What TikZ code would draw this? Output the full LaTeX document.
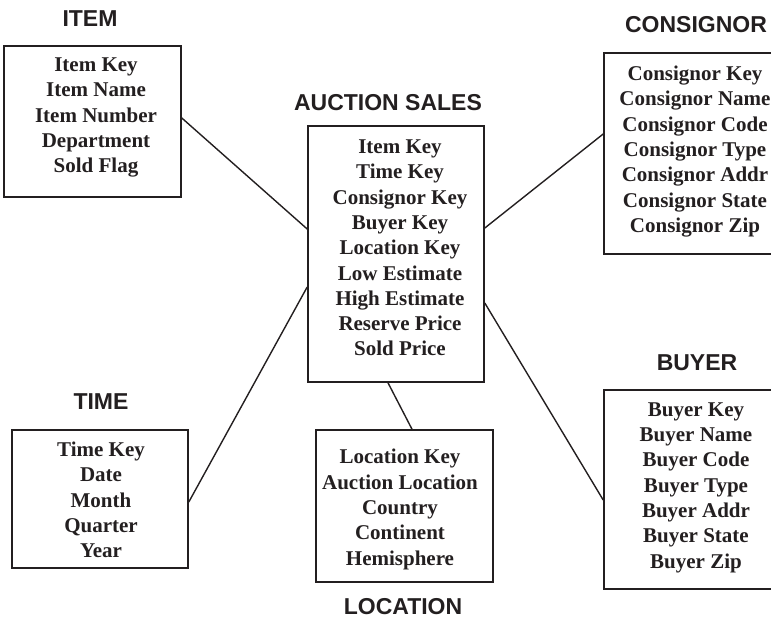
\documentclass[tikz,border=0pt]{standalone}
\usepackage{fontspec}
\setmainfont{Liberation Serif}
\setsansfont{Liberation Sans}
\usetikzlibrary{positioning}
\definecolor{ink}{RGB}{35,31,32}

\begin{document}
\begin{tikzpicture}[x=1pt,y=-1pt,
  tbl/.style={draw=ink,line width=1.6pt,inner sep=0pt},
  fields/.style={text=ink,align=center,font=\fontsize{21}{25.3}\selectfont\bfseries},
  title/.style={text=ink,font=\fontsize{23}{27}\selectfont\sffamily\bfseries},
  link/.style={draw=ink,line width=1.4pt}]
\useasboundingbox (0,0) rectangle (771,621);

% tables
\node[tbl,minimum width=177pt,minimum height=151pt] (item) at (92.5,121.5) {};
\node[tbl,minimum width=176pt,minimum height=256pt] (sales) at (396,254) {};
\node[tbl,minimum width=176pt,minimum height=201pt] (cons) at (692,153.5) {};
\node[tbl,minimum width=176pt,minimum height=199pt] (buyer) at (692,489.5) {};
\node[tbl,minimum width=176pt,minimum height=138pt] (time) at (100,499) {};
\node[tbl,minimum width=177pt,minimum height=152pt] (loc) at (404.5,506) {};

% fields
\node[fields] (itemf) at (96,117.5) {Item Key\\Item Name\\Item Number\\Department\\Sold Flag};
\node[fields] (salesf) at (400,248) {Item Key\\Time Key\\Consignor Key\\Buyer Key\\Location Key\\Low Estimate\\High Estimate\\Reserve Price\\Sold Price};
\node[fields] (consf) at (695,151.5) {Consignor Key\\Consignor Name\\Consignor Code\\Consignor Type\\Consignor Addr\\Consignor State\\Consignor Zip};
\node[fields] (buyerf) at (696,487.5) {Buyer Key\\Buyer Name\\Buyer Code\\Buyer Type\\Buyer Addr\\Buyer State\\Buyer Zip};
\node[fields] (timef) at (101,500) {Time Key\\Date\\Month\\Quarter\\Year};
\node[fields] (locf) at (400,509.5) {Location Key\\Auction Location\\Country\\Continent\\Hemisphere};

% titles
\node[title] (itemt) at (90,19) {ITEM};
\node[title] (salest) at (388,103) {AUCTION SALES};
\node[title] (const) at (696,25) {CONSIGNOR};
\node[title] (buyert) at (697,363) {BUYER};
\node[title] (timet) at (101,402) {TIME};
\node[title] (loct) at (403,607) {LOCATION};

% links
\draw[link] ([yshift=3.5pt]item.east) -- ([yshift=25pt]sales.west);
\draw[link] ([yshift=26pt]sales.east) -- ([yshift=19.5pt]cons.west);
\draw[link] ([yshift=-33pt]sales.west) -- ([yshift=-3pt]time.east);
\draw[link] ([yshift=-49pt]sales.east) -- ([yshift=-10.5pt]buyer.west);
\draw[link] ([xshift=-8pt]sales.south) -- ([xshift=7.5pt]loc.north);
\end{tikzpicture}
\end{document}
